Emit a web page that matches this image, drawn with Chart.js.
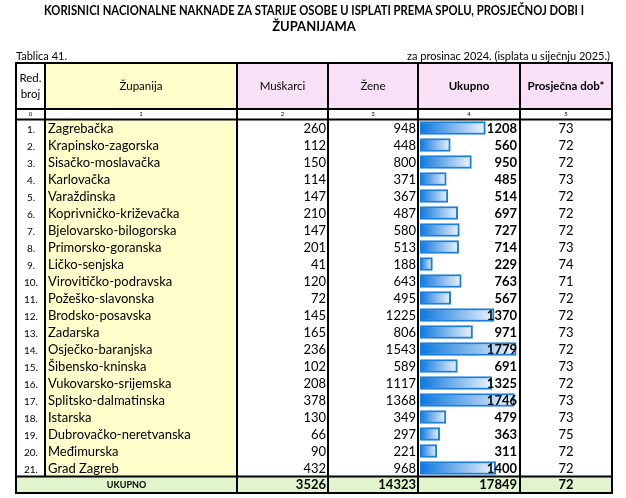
<!DOCTYPE html>
<html><head><meta charset="utf-8">
<script src="https://cdn.jsdelivr.net/npm/chart.js@4"></script>
<style>html,body{margin:0;padding:0;background:#fff}#wrap{width:626px;height:498px;position:relative}</style>
</head><body><div id="wrap"><canvas id="c" width="626" height="498"></canvas></div>
<script>
const titleLines = ["KORISNICI NACIONALNE NAKNADE ZA STARIJE OSOBE U ISPLATI PREMA SPOLU, PROSJEČNOJ DOBI I", "ŽUPANIJAMA"];
const tableLabel = "Tablica 41.";
const periodLabel = "za prosinac 2024. (isplata u siječnju 2025.)";
const headers = [["Red.", "broj"], ["Županija"], ["Muškarci"], ["Žene"], ["Ukupno"], ["Prosječna dob*"]];
const colIndex = ["0", "1", "2", "3", "4", "5"];
const redBroj = ["1.","2.","3.","4.","5.","6.","7.","8.","9.","10.","11.","12.","13.","14.","15.","16.","17.","18.","19.","20.","21."];
const zupanije = ["Zagrebačka","Krapinsko-zagorska","Sisačko-moslavačka","Karlovačka","Varaždinska","Koprivničko-križevačka","Bjelovarsko-bilogorska","Primorsko-goranska","Ličko-senjska","Virovitičko-podravska","Požeško-slavonska","Brodsko-posavska","Zadarska","Osječko-baranjska","Šibensko-kninska","Vukovarsko-srijemska","Splitsko-dalmatinska","Istarska","Dubrovačko-neretvanska","Međimurska","Grad Zagreb"];
const muskarci = [260,112,150,114,147,210,147,201,41,120,72,145,165,236,102,208,378,130,66,90,432];
const zene = [948,448,800,371,367,487,580,513,188,643,495,1225,806,1543,589,1117,1368,349,297,221,968];
const ukupno = [1208,560,950,485,514,697,727,714,229,763,567,1370,971,1779,691,1325,1746,479,363,311,1400];
const prosjecnaDob = [73,72,72,73,72,72,72,73,74,71,72,72,73,72,73,72,73,73,75,72,72];
const totalLabel = "UKUPNO";
const totals = [3526, 14323, 17849, 72];

const FONT = "Lato";
const colX = [16, 45, 237, 328, 418, 520, 612];
const TOP = 63, HDR_B = 109, IDX_B = 119.5, BODY_B = 476.5, TOT_B = 493;
const YELLOW = "#FFFFCC", PINK = "#F8E1F7", GREEN = "#E2F4CC";

const tablePlugin = {
  id: "tablePlugin",
  beforeDatasetsDraw(chart) {
    const ctx = chart.ctx;
    ctx.save();
    ctx.fillStyle = "#fff";
    ctx.fillRect(0, 0, 626, 498);
    ctx.fillStyle = YELLOW;
    ctx.fillRect(colX[1], TOP, colX[2]-colX[1], HDR_B-TOP);
    ctx.fillRect(colX[1], IDX_B, colX[2]-colX[1], BODY_B-IDX_B);
    ctx.fillStyle = PINK;
    ctx.fillRect(colX[2], TOP, colX[6]-colX[2], HDR_B-TOP);
    ctx.fillStyle = GREEN;
    ctx.fillRect(colX[0], BODY_B, colX[6]-colX[0], TOT_B-BODY_B);
    ctx.restore();
  },
  afterDatasetsDraw(chart) {
    const ctx = chart.ctx;
    const ys = chart.scales.y;
    ctx.save();
    ctx.fillStyle = "#000";
    // title
    ctx.textAlign = "center"; ctx.textBaseline = "middle";
    ctx.font = "bold 13px " + FONT;
    ctx.fillText(titleLines[0], 314, 11, 540);
    ctx.fillText(titleLines[1], 314, 27);
    ctx.font = "11px " + FONT;
    ctx.textAlign = "left";
    ctx.fillText(tableLabel, 16, 56);
    ctx.textAlign = "right";
    ctx.fillText(periodLabel, 610, 56);
    // headers
    ctx.textAlign = "center";
    const hc = (TOP + HDR_B) / 2;
    headers.forEach((h, i) => {
      const cx = (colX[i] + colX[i+1]) / 2;
      ctx.font = (i >= 4 ? "bold " : "") + "11.5px " + FONT;
      if (h.length === 2) { ctx.fillText(h[0], cx, hc - 8); ctx.fillText(h[1], cx, hc + 8); }
      else ctx.fillText(h[0], cx, hc);
    });
    ctx.font = "6px " + FONT;
    colIndex.forEach((t, i) => ctx.fillText(t, (colX[i] + colX[i+1]) / 2, (HDR_B + IDX_B) / 2));
    // body
    zupanije.forEach((z, i) => {
      const y = ys.getPixelForValue(i) + 0.5;
      ctx.font = "10px " + FONT; ctx.textAlign = "center";
      ctx.fillText(redBroj[i], 31, y + 1);
      ctx.font = "13px " + FONT; ctx.textAlign = "left";
      ctx.fillText(z, 48, y);
      ctx.textAlign = "right";
      ctx.fillText(String(muskarci[i]), 326, y);
      ctx.fillText(String(zene[i]), 416, y);
      ctx.font = "bold 13px " + FONT;
      ctx.fillText(String(ukupno[i]), 517, y);
      ctx.font = "13px " + FONT; ctx.textAlign = "center";
      ctx.fillText(String(prosjecnaDob[i]), 566, y);
    });
    // totals
    const ty = (BODY_B + TOT_B) / 2 + 0.5;
    ctx.font = "bold 9px " + FONT; ctx.textAlign = "center";
    ctx.fillText(totalLabel, (colX[0] + colX[2]) / 2, ty);
    ctx.font = "bold 13px " + FONT; ctx.textAlign = "right";
    ctx.fillText(String(totals[0]), 326, ty);
    ctx.fillText(String(totals[1]), 416, ty);
    ctx.fillText(String(totals[2]), 517, ty);
    ctx.textAlign = "center";
    ctx.fillText(String(totals[3]), 566, ty);
    // grid lines
    ctx.strokeStyle = "#000"; ctx.lineWidth = 2;
    ctx.beginPath();
    [TOP, HDR_B, IDX_B, BODY_B, TOT_B].forEach(y => { ctx.moveTo(colX[0]-1, y); ctx.lineTo(colX[6]+1, y); });
    colX.forEach((x, i) => {
      ctx.moveTo(x, TOP); ctx.lineTo(x, i === 1 ? BODY_B : TOT_B);
    });
    ctx.stroke();
    ctx.restore();
  }
};

function barGradient(c) {
  const chart = c.chart;
  if (!chart.chartArea) return "rgb(20,120,215)";
  const xs = chart.scales.x;
  const x0 = xs.getPixelForValue(0), x1 = xs.getPixelForValue(c.raw);
  const g = chart.ctx.createLinearGradient(x0, 0, Math.max(x1, x0 + 1), 0);
  g.addColorStop(0, "rgb(10,118,222)");
  g.addColorStop(1, "rgb(238,244,252)");
  return g;
}

new Chart(document.getElementById("c"), {
  type: "bar",
  data: {
    labels: zupanije,
    datasets: [{
      data: ukupno,
      backgroundColor: barGradient,
      borderColor: "rgb(26,128,220)",
      borderWidth: 2,
      borderSkipped: false,
      barThickness: 13
    }]
  },
  options: {
    indexAxis: "y",
    responsive: false,
    animation: false,
    devicePixelRatio: 1,
    layout: { padding: { left: 420, right: 107, top: IDX_B, bottom: 498 - BODY_B } },
    plugins: { legend: { display: false }, tooltip: { enabled: false } },
    scales: {
      x: { display: false, min: 0, max: 1830 },
      y: { display: false }
    }
  },
  plugins: [tablePlugin]
});
</script></body></html>
